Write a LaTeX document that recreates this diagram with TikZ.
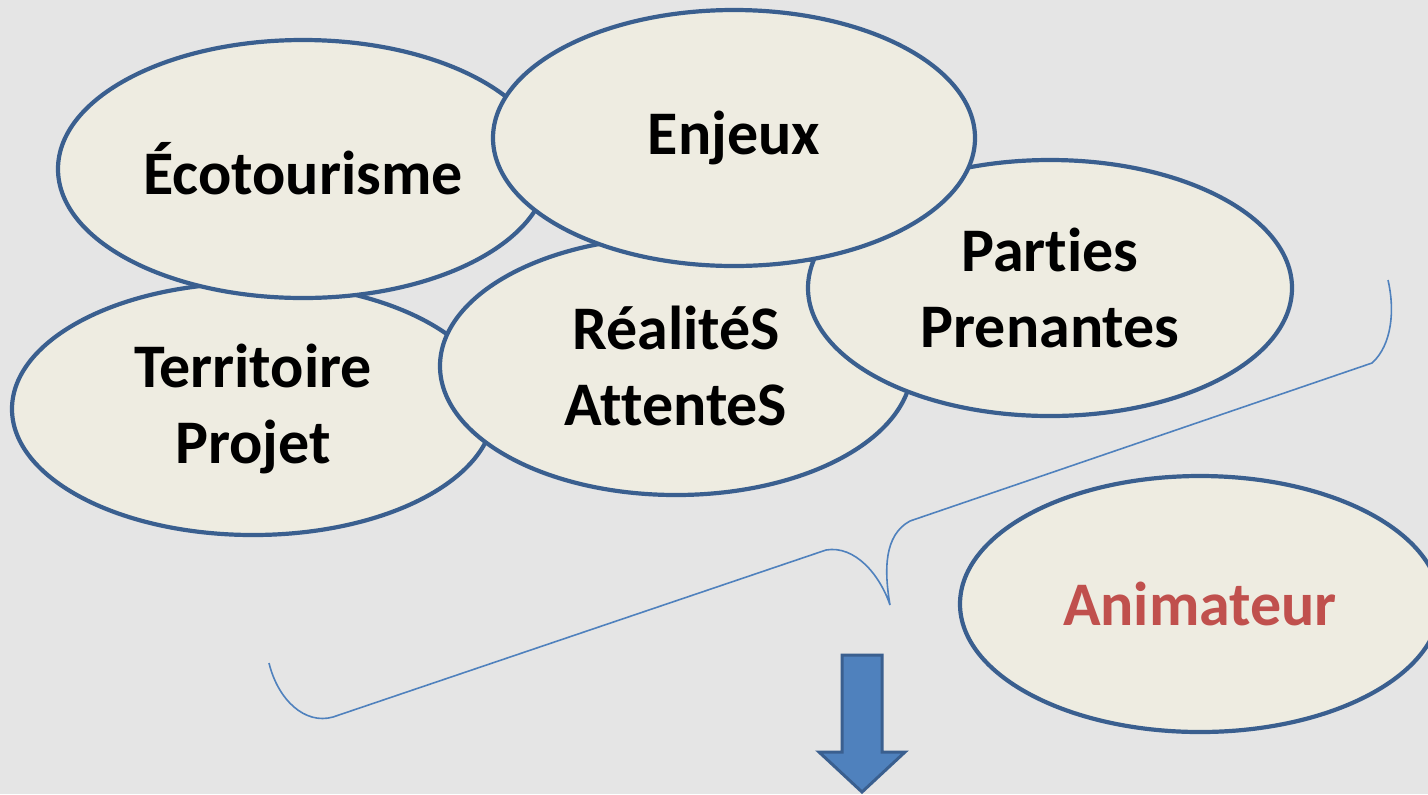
\documentclass[tikz,border=0pt]{standalone}
\usepackage{fontspec}
\setmainfont{Carlito}[Ligatures=NoCommon]
\usetikzlibrary{shapes.geometric}
\definecolor{bgc}{HTML}{E5E5E5}
\definecolor{fillc}{HTML}{EEECE1}
\definecolor{edgec}{HTML}{3A5F8F}
\definecolor{bluec}{HTML}{4F81BD}
\definecolor{redc}{HTML}{C0504D}
\tikzset{
  bubble/.style={ellipse, draw=edgec, fill=fillc, line width=2.1pt, inner sep=0pt,
    align=center, font=\fontsize{31}{38}\selectfont\bfseries},
  brace/.style={draw=bluec, line width=0.8pt},
}
\begin{document}
\begin{tikzpicture}[x=0.5pt,y=-0.5pt]
\path[fill=bgc] (0,0) rectangle (1428,794);
\useasboundingbox (0,0) rectangle (1428,794);
\clip (0,0) rectangle (1428,794);
\node[bubble, minimum width=241pt, minimum height=126pt] (terr) at (253,409) {\raisebox{-2pt}{Territoire}\\\raisebox{-2pt}{Projet}};
\node[bubble, minimum width=236pt, minimum height=129pt] (real) at (676,366) {RéalitéS\\AttenteS};
\node[bubble, minimum width=242pt, minimum height=128pt] (part) at (1050,288) {Parties\\Prenantes};
\node[bubble, minimum width=245pt, minimum height=129pt] (eco) at (303,169) {Écotourisme};
\node[bubble, minimum width=241pt, minimum height=128pt] (enj) at (734,138) {\raisebox{-3pt}{Enjeux}};
\node[bubble, minimum width=240pt, minimum height=128pt, text=redc] (anim) at (1200,604) {\raisebox{-1.5pt}{Animateur}};
\draw[brace] (269,663) .. controls (278,700) and (305,725) .. (333,717)
  -- (826,550) .. controls (855,545) and (880,575) .. (890,605)
  .. controls (884,570) and (884,535) .. (910,521)
  -- (1372,363) .. controls (1392,345) and (1395,310) .. (1388,280);
\draw[draw=edgec, fill=bluec, line width=1.5pt, line join=miter]
  (842,655) -- (882,655) -- (882,752) -- (905,752) -- (862,792) -- (819,752) -- (842,752) -- cycle;
\end{tikzpicture}
\end{document}
